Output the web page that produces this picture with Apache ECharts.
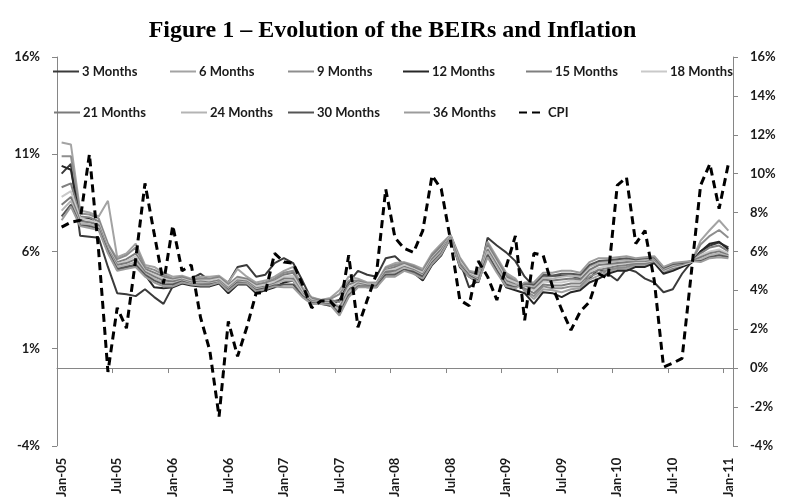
<!DOCTYPE html>
<html><head><meta charset="utf-8">
<script src="https://cdn.jsdelivr.net/npm/echarts@6/dist/echarts.min.js"></script>
<style>html,body{margin:0;padding:0;background:#fff}#c{width:785px;height:500px}</style>
</head><body><div id="c"></div>
<script>
// ---- categories (monthly, Jan-05 .. Jan-11) ----
const monthNames = ['Jan','Feb','Mar','Apr','May','Jun','Jul','Aug','Sep','Oct','Nov','Dec'];
const yearLabels = ['05','06','07','08','09','10','11'];
const categories = [];
yearLabels.forEach(function (y, yi) {
  monthNames.forEach(function (m, mi) {
    if (yi < 6 || mi === 0) categories.push(m + '-' + y);
  });
});

// ---- axis ticks ----
const leftTicks = [-4, 1, 6, 11, 16];
const rightTicks = [-4, -2, 0, 2, 4, 6, 8, 10, 12, 14, 16];

// ---- series names ----
const seriesNames = ['3 Months','6 Months','9 Months','12 Months','15 Months','18 Months',
                     '21 Months','24 Months','30 Months','36 Months','CPI'];

// ---- values (%) ----
const m3 = [10.0,10.5,6.8,6.75,6.7,5.2,3.85,3.8,3.7,4.05,3.65,3.3,
  4.2,4.4,4.6,4.85,4.5,4.6,4.4,5.2,5.3,4.7,4.8,5.4,
  5.65,5.4,4.5,3.5,3.45,3.4,3.5,4.4,5.0,4.8,4.7,5.65,
  5.75,5.3,5.0,4.6,5.5,6.0,6.8,5.5,4.15,4.5,6.7,6.3,
  5.95,5.5,4.7,4.2,4.75,4.75,4.75,4.75,4.6,4.6,5.1,4.85,
  4.5,5.1,4.95,4.6,4.4,3.9,4.05,4.85,5.45,6.0,6.3,6.45,6.2];
const m6 = [11.6,11.5,8.1,8.0,7.8,8.6,5.7,5.9,6.4,5.3,5.2,4.9,
  4.7,4.75,4.6,4.7,4.7,4.75,4.4,5.1,4.7,4.4,4.5,4.7,
  5.0,5.2,4.15,3.65,3.5,3.6,4.0,4.7,4.6,4.4,4.4,5.2,
  5.4,5.45,5.3,5.1,5.9,6.4,6.85,5.7,5.0,4.9,6.5,5.7,
  4.9,4.6,3.95,3.55,4.05,4.0,3.9,4.05,4.1,4.55,4.75,4.95,
  5.1,5.1,5.3,5.3,5.45,4.9,5.05,5.2,5.45,6.55,7.1,7.6,7.07];
const m9 = [10.9,10.9,7.95,7.9,7.7,6.4,5.6,5.8,6.2,5.2,5.05,4.8,
  4.6,4.7,4.55,4.6,4.6,4.7,4.3,4.7,4.6,4.3,4.4,4.6,
  4.9,5.0,4.05,3.6,3.5,3.55,3.8,4.5,4.5,4.35,4.35,5.15,
  5.3,5.4,5.25,5.0,5.8,6.3,6.85,5.6,4.95,4.8,6.4,5.6,
  4.8,4.5,4.0,3.7,4.2,4.1,4.1,4.2,4.2,4.7,4.9,5.05,
  5.15,5.2,5.35,5.35,5.5,4.95,5.1,5.25,5.45,6.35,6.8,7.1,6.7];
const m12 = [10.4,10.2,7.6,7.7,7.3,6.0,5.05,5.2,5.3,4.8,4.15,4.1,
  4.15,4.35,4.25,4.2,4.2,4.35,3.85,4.3,4.3,3.85,4.0,4.15,
  4.4,4.5,3.7,3.3,3.3,3.2,3.5,4.1,4.3,4.15,4.15,4.9,
  4.9,5.1,4.9,4.5,5.3,5.8,6.7,5.2,4.7,4.4,5.9,5.0,
  4.15,4.0,3.85,3.3,3.9,3.85,3.65,3.9,4.0,4.4,4.6,4.85,
  5.0,5.0,5.2,5.2,5.4,4.85,5.0,5.2,5.4,6.0,6.4,6.5,6.1];
const m15 = [9.3,9.5,7.8,7.75,7.55,6.3,5.45,5.6,5.9,5.1,4.9,4.7,
  4.55,4.65,4.5,4.55,4.55,4.65,4.25,4.65,4.55,4.25,4.35,4.5,
  4.8,4.9,4.0,3.55,3.45,3.5,3.4,4.3,4.45,4.3,4.3,5.05,
  5.2,5.35,5.2,4.95,5.75,6.25,6.8,5.55,4.9,4.75,6.3,5.5,
  4.7,4.45,4.1,3.85,4.3,4.25,4.25,4.35,4.35,4.85,5.05,5.15,
  5.25,5.3,5.4,5.4,5.5,5.0,5.15,5.3,5.45,5.9,6.2,6.3,6.0];
const m18 = [8.8,9.1,7.7,7.6,7.45,6.2,5.35,5.5,5.75,5.0,4.8,4.6,
  4.5,4.6,4.45,4.5,4.5,4.6,4.2,4.6,4.5,4.2,4.3,4.45,
  4.7,4.75,3.95,3.5,3.4,3.45,3.2,4.15,4.4,4.3,4.3,5.0,
  5.1,5.3,5.1,4.9,5.65,6.15,6.8,5.5,4.85,4.7,6.2,5.4,
  4.6,4.4,4.2,4.0,4.45,4.4,4.4,4.5,4.45,4.95,5.15,5.25,
  5.35,5.4,5.45,5.45,5.55,5.0,5.2,5.3,5.45,5.8,6.0,6.1,5.9];
const m21 = [8.4,8.8,7.55,7.5,7.35,6.1,5.3,5.4,5.6,4.95,4.7,4.5,
  4.45,4.55,4.4,4.45,4.4,4.5,4.1,4.5,4.45,4.1,4.2,4.35,
  4.6,4.6,3.85,3.45,3.4,3.4,3.1,4.0,4.35,4.25,4.25,4.95,
  5.0,5.2,5.05,4.8,5.6,6.1,6.75,5.4,4.8,4.6,6.1,5.3,
  4.5,4.3,4.25,4.1,4.55,4.5,4.55,4.6,4.55,5.05,5.3,5.35,
  5.4,5.45,5.5,5.5,5.6,5.05,5.25,5.35,5.5,5.7,5.9,6.0,5.8];
const m24 = [8.1,8.6,7.45,7.4,7.25,6.05,5.2,5.3,5.45,4.85,4.6,4.4,
  4.35,4.5,4.35,4.4,4.35,4.45,4.05,4.45,4.4,4.05,4.15,4.3,
  4.5,4.5,3.8,3.4,3.35,3.35,2.95,3.9,4.3,4.2,4.2,4.85,
  4.9,5.15,5.0,4.75,5.5,6.0,6.75,5.35,4.8,4.55,6.0,5.2,
  4.4,4.25,4.3,4.2,4.65,4.6,4.7,4.75,4.7,5.2,5.4,5.45,
  5.5,5.55,5.55,5.55,5.65,5.1,5.3,5.4,5.45,5.6,5.8,5.9,5.75];
const m30 = [7.8,8.4,7.35,7.3,7.15,6.0,5.1,5.2,5.3,4.8,4.5,4.3,
  4.3,4.45,4.3,4.3,4.3,4.4,4.0,4.4,4.35,4.0,4.1,4.25,
  4.3,4.3,3.7,3.35,3.3,3.3,2.8,3.75,4.2,4.2,4.2,4.8,
  4.8,5.05,4.95,4.7,5.4,5.9,6.7,5.3,4.75,4.5,5.8,5.0,
  4.3,4.15,4.35,4.3,4.8,4.75,4.85,4.85,4.8,5.3,5.5,5.55,
  5.6,5.65,5.6,5.65,5.7,5.15,5.35,5.4,5.5,5.5,5.7,5.8,5.7];
const m36 = [7.6,8.3,7.3,7.2,7.1,5.9,5.0,5.1,5.2,4.7,4.4,4.2,
  4.2,4.4,4.3,4.25,4.25,4.4,3.95,4.35,4.35,3.95,4.05,4.2,
  4.15,4.15,3.65,3.3,3.3,3.25,2.7,3.65,4.15,4.15,4.15,4.7,
  4.7,5.0,4.85,4.6,5.35,5.85,6.7,5.25,4.7,4.45,5.7,4.9,
  4.2,4.1,4.4,4.4,4.9,4.9,5.0,5.0,4.9,5.45,5.65,5.65,
  5.7,5.75,5.65,5.7,5.75,5.2,5.4,5.45,5.5,5.45,5.65,5.7,5.65];
const cpi = [7.25,7.5,7.6,11.0,6.0,-0.2,3.1,2.05,5.6,9.5,6.9,4.35,
  7.33,5.0,5.3,2.6,0.9,-2.5,2.4,0.6,2.1,3.85,3.9,5.9,
  5.45,5.4,4.3,3.1,3.45,3.45,2.9,5.8,2.1,3.5,4.85,9.2,
  6.7,6.15,5.95,7.07,9.9,9.2,6.56,3.5,3.2,5.5,4.7,3.5,
  5.2,6.8,2.45,5.9,5.8,4.2,3.0,1.95,2.9,3.4,4.85,4.6,
  9.4,9.8,6.4,7.07,4.5,0.05,0.25,0.5,4.9,9.4,10.5,8.2,10.5];

const seriesData = [m3, m6, m9, m12, m15, m18, m21, m24, m30, m36, cpi];
const seriesColors = ['#3a3a3a','#a3a3a3','#8e8e8e','#262626','#7f7f7f','#c9c9c9',
                      '#7a7a7a','#b4b4b4','#555555','#9c9c9c','#000000'];

// legend placement (icon left x, row top y)
const legendPos = [[52,65],[169,65],[287,65],[402,65],[525,65],[640,65],
                   [53,106],[180,106],[287,106],[403,106],[518,106]];

const axisGray = '#868686';
const labelFont = {fontFamily: 'Lato', fontWeight: 'bold', fontSize: 13, color: '#1a1a1a'};

const chart = echarts.init(document.getElementById('c'), null, {renderer: 'canvas'});

const series = seriesNames.map(function (n, i) {
  const isCpi = n === 'CPI';
  return {
    name: n, type: 'line', data: seriesData[i], yAxisIndex: 1, xAxisIndex: 0,
    symbol: 'none', showSymbol: false, smooth: false, animation: false,
    lineStyle: {color: seriesColors[i], width: isCpi ? 3 : 2, type: isCpi ? [8, 5] : 'solid'},
    itemStyle: {color: seriesColors[i]},
    z: isCpi ? 5 : 2
  };
});

const legends = seriesNames.map(function (n, i) {
  return {
    data: [n], left: legendPos[i][0], top: legendPos[i][1], padding: 0,
    itemWidth: 26, itemHeight: 14, itemGap: 0,
    itemStyle: {opacity: 0},
    textStyle: Object.assign({padding: [0, 0, 0, -2]}, labelFont),
    selectedMode: false
  };
});

chart.setOption({
  backgroundColor: '#ffffff',
  animation: false,
  title: {
    text: 'Figure 1 \u2013 Evolution of the BEIRs and Inflation',
    left: 'center', top: 14,
    textStyle: {fontFamily: 'Liberation Serif', fontWeight: 'bold', fontSize: 24, color: '#000'}
  },
  legend: legends,
  grid: {left: 57, right: 52, top: 57, bottom: 53, containLabel: false},
  xAxis: [
    {
      type: 'category', data: categories, position: 'bottom', boundaryGap: true,
      axisLine: {show: false, onZero: false}, axisTick: {show: false},
      axisLabel: Object.assign({interval: 5, rotate: 90, margin: 12}, labelFont),
      splitLine: {show: false}
    },
    {
      type: 'category', data: categories, position: 'bottom', boundaryGap: true,
      axisLine: {show: true, onZero: true, lineStyle: {color: axisGray, width: 1}},
      axisTick: {show: true, interval: 5, length: 5, lineStyle: {color: axisGray}},
      axisLabel: {show: false}, splitLine: {show: false}
    }
  ],
  yAxis: [
    {
      type: 'value', position: 'left', min: leftTicks[0], max: leftTicks[leftTicks.length - 1],
      interval: leftTicks[1] - leftTicks[0],
      axisLine: {show: true, lineStyle: {color: axisGray}},
      axisTick: {show: true, length: 5, lineStyle: {color: axisGray}},
      axisLabel: Object.assign({margin: 17, formatter: function (v) { return v + '%'; }}, labelFont),
      splitLine: {show: false}
    },
    {
      type: 'value', position: 'right', min: rightTicks[0], max: rightTicks[rightTicks.length - 1],
      interval: rightTicks[1] - rightTicks[0],
      axisLine: {show: true, lineStyle: {color: axisGray}},
      axisTick: {show: true, length: 5, lineStyle: {color: axisGray}},
      axisLabel: Object.assign({margin: 17, formatter: function (v) { return v + '%'; }}, labelFont),
      splitLine: {show: false}
    }
  ],
  series: series
});
</script>
</body></html>
